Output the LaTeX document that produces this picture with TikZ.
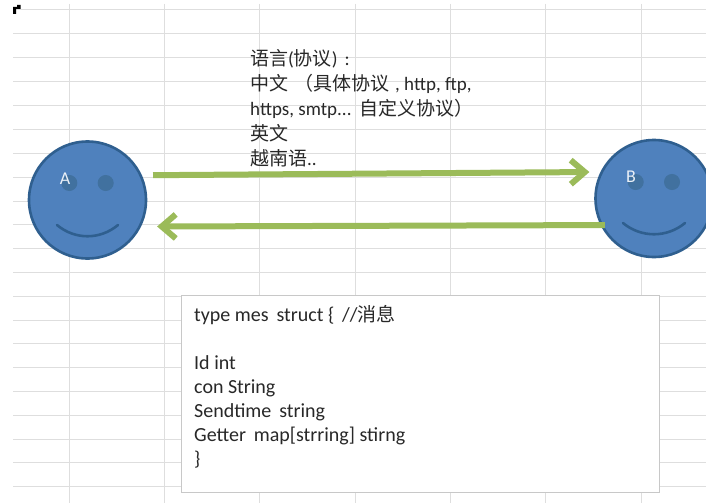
\documentclass[tikz,border=0pt]{standalone}
\usepackage{fontspec}
\setmainfont{Carlito}
\newfontfamily\cjk[Scale=1.0]{Noto Sans CJK SC}
\usetikzlibrary{arrows.meta}
\definecolor{gridc}{HTML}{DEDEDE}
\definecolor{facefill}{HTML}{4F81BD}
\definecolor{faceline}{HTML}{2F5F8F}
\definecolor{eyefill}{HTML}{41719F}
\definecolor{arrowg}{HTML}{9BBB59}
\definecolor{boxline}{HTML}{C8C8C8}
\definecolor{txt}{HTML}{282828}
\tikzset{
  gridline/.style={gridc,line width=1pt},
  face/.style={circle,draw=faceline,fill=facefill,line width=2.6pt,minimum size=117pt,inner sep=0pt,outer sep=0pt},
  eye/.style={circle,draw=eyefill,fill=eyefill,line width=1pt,minimum size=15pt,inner sep=0pt},
  smile/.style={faceline,line width=2.6pt,line cap=round},
  facelabel/.style={text=white!88!facefill,font=\fontsize{18}{20}\selectfont,inner sep=0pt},
  link/.style={arrowg,line width=6pt,-{Straight Barb[length=14pt,width=24pt,line width=6pt]}},
  note/.style={text=txt,align=left,anchor=north west,inner sep=0pt},
  msgbox/.style={draw=boxline,fill=white,line width=1.2pt,anchor=north west,minimum width=478pt,minimum height=197pt,inner sep=0pt}
}
\begin{document}
\begin{tikzpicture}[x=1pt,y=-1pt]
\useasboundingbox (0,0) rectangle (706,503);
\fill[white] (0,0) rectangle (706,503);
% sheet grid
\foreach \gy in {10,34,58,81,105,129,153,177,201,224,248,272,296,320,343,367,391,415,439,462,486}
  \draw[gridline] (13,\gy) -- (706,\gy);
\foreach \gx in {69,164,259,355,450,545,641}
  \draw[gridline] (\gx,4) -- (\gx,503);
% corner mark
\fill[black] (13,7) -- (17,7) -- (17,5) -- (20.5,5) -- (20.5,9) -- (16,9) -- (16,14) -- (13,14) -- cycle;
% faces
\node[face] (faceA) at (87.5,200) {};
\node[face] (faceB) at (654,198.5) {};
\node[eye] (eyeAl) at (69.3,183) {};
\node[eye] (eyeAr) at (105.7,183) {};
\node[eye] (eyeBl) at (635.7,182) {};
\node[eye] (eyeBr) at (672,182) {};
\draw[smile] (57,225) .. controls (75,240) and (100,240) .. (118,225);
\draw[smile] (623,223) .. controls (641,238) and (667,238) .. (685,223);
\node[facelabel] (labA) at (65,179) {A};
\node[facelabel] (labB) at (631,177) {B};
% arrows
\draw[link,shorten <=12.5pt,shorten >=12.5pt] (faceA.25) -- (faceB.153);
\draw[link,shorten <=-3pt,shorten >=17.5pt] (faceB.207) -- (faceA.-27.5);
% protocol note
\node[note,font=\fontsize{19}{25}\selectfont] (proto) at (250,49) {%
{\cjk 语言}({\cjk 协议})\hspace{7pt}:\\
{\cjk 中文\hspace{6pt}（具体协议}\hspace{6pt}, http, ftp,\\
https, smtp...\hspace{2pt} {\cjk 自定义协议）}\\
{\cjk 英文}\\
{\cjk 越南语}..};
% message box
\node[msgbox] (box) at (181,294.5) {};
\node[note,font=\fontsize{20}{24}\selectfont] (boxtext) at (194,305) {%
type mes\, struct \{\, //{\cjk\fontsize{19}{24}\selectfont 消息}\\[24pt]
Id int\\
con String\\
Sendtime\, string\\
Getter\, map[strring] stirng\\
\}};
\end{tikzpicture}
\end{document}
